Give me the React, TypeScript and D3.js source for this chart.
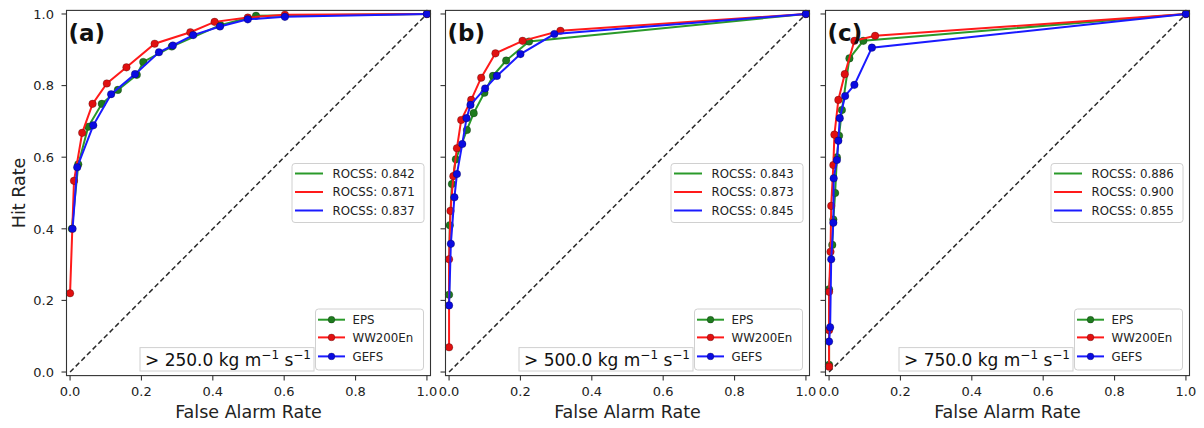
import React from "react";
import * as d3 from "d3";

type Pt = [number, number];

// ROC points (false alarm rate, hit rate) per threshold
const epsA: Pt[] = [[0.005, 0.4], [0.023, 0.58], [0.051, 0.685], [0.089, 0.749], [0.134, 0.788], [0.187, 0.83], [0.205, 0.866], [0.285, 0.909], [0.421, 0.969], [0.521, 0.995], [1, 1]];
const wwA: Pt[] = [[0.0, 0.22], [0.011, 0.534], [0.034, 0.668], [0.063, 0.749], [0.103, 0.806], [0.158, 0.851], [0.237, 0.917], [0.337, 0.949], [0.405, 0.978], [0.498, 0.99], [0.602, 0.998], [1, 1]];
const gefsA: Pt[] = [[0.007, 0.4], [0.02, 0.572], [0.065, 0.689], [0.115, 0.776], [0.182, 0.832], [0.249, 0.893], [0.288, 0.912], [0.345, 0.941], [0.42, 0.965], [0.498, 0.985], [0.602, 0.992], [1, 1]];

const epsB: Pt[] = [[0, 0.216], [0.002, 0.41], [0.008, 0.525], [0.019, 0.594], [0.05, 0.676], [0.069, 0.723], [0.099, 0.78], [0.123, 0.827], [0.16, 0.87], [0.224, 0.923], [1, 1]];
const wwB: Pt[] = [[0, 0.069], [0, 0.315], [0.004, 0.45], [0.012, 0.547], [0.022, 0.625], [0.034, 0.704], [0.062, 0.76], [0.09, 0.822], [0.13, 0.89], [0.206, 0.925], [0.312, 0.953], [1, 1]];
const gefsB: Pt[] = [[0, 0.186], [0.005, 0.358], [0.015, 0.488], [0.022, 0.553], [0.037, 0.637], [0.049, 0.709], [0.06, 0.746], [0.101, 0.792], [0.134, 0.827], [0.2, 0.888], [0.295, 0.944], [1, 1]];

const epsC: Pt[] = [[0, 0.02], [0, 0.231], [0.009, 0.355], [0.012, 0.426], [0.017, 0.5], [0.022, 0.6], [0.028, 0.66], [0.036, 0.732], [0.057, 0.876], [0.096, 0.925], [1, 1]];
const wwC: Pt[] = [[0, 0.015], [0, 0.117], [0, 0.224], [0.004, 0.336], [0.006, 0.464], [0.012, 0.578], [0.015, 0.663], [0.026, 0.76], [0.044, 0.832], [0.071, 0.925], [0.129, 0.939], [1, 1]];
const gefsC: Pt[] = [[0, 0.085], [0.003, 0.125], [0.006, 0.315], [0.012, 0.417], [0.013, 0.541], [0.022, 0.592], [0.026, 0.646], [0.03, 0.709], [0.045, 0.771], [0.071, 0.802], [0.12, 0.906], [1, 1]];

const panelTags = ["(a)", "(b)", "(c)"];
const thresholds = ["250.0", "500.0", "750.0"];
const modelNames = ["EPS", "WW200En", "GEFS"];
const rocssA = [0.842, 0.871, 0.837];
const rocssB = [0.843, 0.873, 0.845];
const rocssC = [0.886, 0.9, 0.855];
const ticks = [0, 0.2, 0.4, 0.6, 0.8, 1.0];

const lineColors = ["#2a9a2a", "#ff1a1a", "#1a1aff"];
const markerColors = ["#1e7a1e", "#e01010", "#0a0ae0"];

const panels = [
  { tag: panelTags[0], thr: thresholds[0], series: [epsA, wwA, gefsA], rocss: rocssA },
  { tag: panelTags[1], thr: thresholds[1], series: [epsB, wwB, gefsB], rocss: rocssB },
  { tag: panelTags[2], thr: thresholds[2], series: [epsC, wwC, gefsC], rocss: rocssC },
];

const FONT = "DejaVu Sans, Verdana, sans-serif";
const lefts = [66.5, 445.5, 825.5];
const W = 364;
const TOP = 10.4;
const BOTTOM = 375.6;

function Panel({ p, left, showY }: { p: (typeof panels)[number]; left: number; showY: boolean }) {
  const x = d3.scaleLinear().domain([-0.01, 1.01]).range([left, left + W]);
  const y = d3.scaleLinear().domain([-0.01, 1.01]).range([BOTTOM, TOP]);
  const line = d3.line<Pt>().x((d) => x(d[0])).y((d) => y(d[1]));
  const right = left + W;

  // top legend (ROCSS), centered vertically at the right edge
  const lgW = 132, lgH = 59;
  const lgX = right - 6.5 - lgW;
  const lgY = (TOP + BOTTOM) / 2 - lgH / 2;
  const lgRows = [10, 28.5, 47];

  // bottom legend (models), lower right
  const mlW = 108, mlH = 61;
  const mlX = right - 7 - mlW;
  const mlY = BOTTOM - 5.6 - mlH;
  const mlRows = [10.7, 28.4, 47.4];

  // threshold annotation box
  const anX = left + 73.5, anW = 174, anH = 23.4;
  const anY = BOTTOM - 4.6 - anH;

  return (
    <g>
      <rect x={left} y={TOP} width={W} height={BOTTOM - TOP} fill="white" />
      <clipPath id={`clip-${p.tag}`}>
        <rect x={left - 4} y={TOP - 4} width={W + 8} height={BOTTOM - TOP + 8} />
      </clipPath>
      <g clipPath={`url(#clip-${p.tag})`}>
        <line x1={x(0)} y1={y(0)} x2={x(1)} y2={y(1)} stroke="#2a2a2a" strokeWidth={1.5} strokeDasharray="5,3" />
        {p.series.map((s, i) => (
          <g key={i}>
            <path d={line(s) ?? ""} fill="none" stroke={lineColors[i]} strokeWidth={2} />
            {s.map((d, j) => (
              <circle key={j} cx={x(d[0])} cy={y(d[1])} r={3.8} fill={markerColors[i]} stroke="rgba(0,0,0,0.35)" strokeWidth={0.7} />
            ))}
          </g>
        ))}
      </g>
      {/* axes frame */}
      <rect x={left} y={TOP} width={W} height={BOTTOM - TOP} fill="none" stroke="#333" strokeWidth={1.1} />
      {/* x ticks */}
      {ticks.map((t) => (
        <g key={`x${t}`}>
          <line x1={x(t)} x2={x(t)} y1={BOTTOM} y2={BOTTOM + 5} stroke="#333" strokeWidth={1.1} />
          <text x={x(t)} y={396} textAnchor="middle" fontSize={13} fontFamily={FONT} fill="#222">
            {d3.format(".1f")(t)}
          </text>
        </g>
      ))}
      {/* y ticks */}
      {ticks.map((t) => (
        <g key={`y${t}`}>
          <line x1={left - 5} x2={left} y1={y(t)} y2={y(t)} stroke="#333" strokeWidth={1.1} />
          {showY && (
            <text x={left - 12.5} y={y(t) + 4.7} textAnchor="end" fontSize={13} fontFamily={FONT} fill="#222">
              {d3.format(".1f")(t)}
            </text>
          )}
        </g>
      ))}
      <text x={(left + right) / 2} y={418} textAnchor="middle" fontSize={17.5} fontFamily={FONT} fill="#222">
        False Alarm Rate
      </text>
      <text x={left + 2} y={41} fontSize={23} fontWeight="bold" fontFamily={FONT} fill="#111">
        {p.tag}
      </text>

      {/* ROCSS legend */}
      <rect x={lgX} y={lgY} width={lgW} height={lgH} rx={3} fill="rgba(255,255,255,0.85)" stroke="#d0d0d0" strokeWidth={1} />
      {p.rocss.map((v, i) => (
        <g key={`r${i}`}>
          <line x1={lgX + 3} x2={lgX + 31} y1={lgY + lgRows[i]} y2={lgY + lgRows[i]} stroke={lineColors[i]} strokeWidth={2} />
          <text x={lgX + 40.5} y={lgY + lgRows[i] + 4.3} fontSize={11.8} fontFamily={FONT} fill="#222">
            {`ROCSS: ${d3.format(".3f")(v)}`}
          </text>
        </g>
      ))}

      {/* model legend */}
      <rect x={mlX} y={mlY} width={mlW} height={mlH} rx={3} fill="rgba(255,255,255,0.85)" stroke="#d0d0d0" strokeWidth={1} />
      {modelNames.map((n, i) => (
        <g key={`m${i}`}>
          <line x1={mlX + 2.5} x2={mlX + 29.5} y1={mlY + mlRows[i]} y2={mlY + mlRows[i]} stroke={lineColors[i]} strokeWidth={2} />
          <circle cx={mlX + 16} cy={mlY + mlRows[i]} r={3.4} fill={markerColors[i]} stroke="rgba(0,0,0,0.35)" strokeWidth={0.7} />
          <text x={mlX + 37} y={mlY + mlRows[i] + 4.3} fontSize={11.8} fontFamily={FONT} fill="#222">
            {n}
          </text>
        </g>
      ))}

      {/* threshold label */}
      <rect x={anX} y={anY} width={anW} height={anH} fill="rgba(255,255,255,0.9)" stroke="#d0d0d0" strokeWidth={1} />
      <text x={anX + 5} y={anY + anH - 5.5} fontSize={17} fontFamily={FONT} fill="#111">
        <tspan>{`> ${p.thr} kg m`}</tspan>
        <tspan fontSize={12} dy={-6.5}>−1</tspan>
        <tspan dy={6.5}> s</tspan>
        <tspan fontSize={12} dy={-6.5}>−1</tspan>
      </text>
    </g>
  );
}

export default function App() {
  return (
    <svg
      width={1204}
      height={428}
      viewBox="0 0 1204 428"
      style={{ position: "absolute", left: 0, top: 0, background: "white" }}
    >
      <rect width={1204} height={428} fill="white" />
      {panels.map((p, i) => (
        <Panel key={p.tag} p={p} left={lefts[i]} showY={i === 0} />
      ))}
      <text
        transform={`translate(25, ${(TOP + BOTTOM) / 2}) rotate(-90)`}
        textAnchor="middle"
        fontSize={17.5}
        fontFamily={FONT}
        fill="#222"
      >
        Hit Rate
      </text>
    </svg>
  );
}
